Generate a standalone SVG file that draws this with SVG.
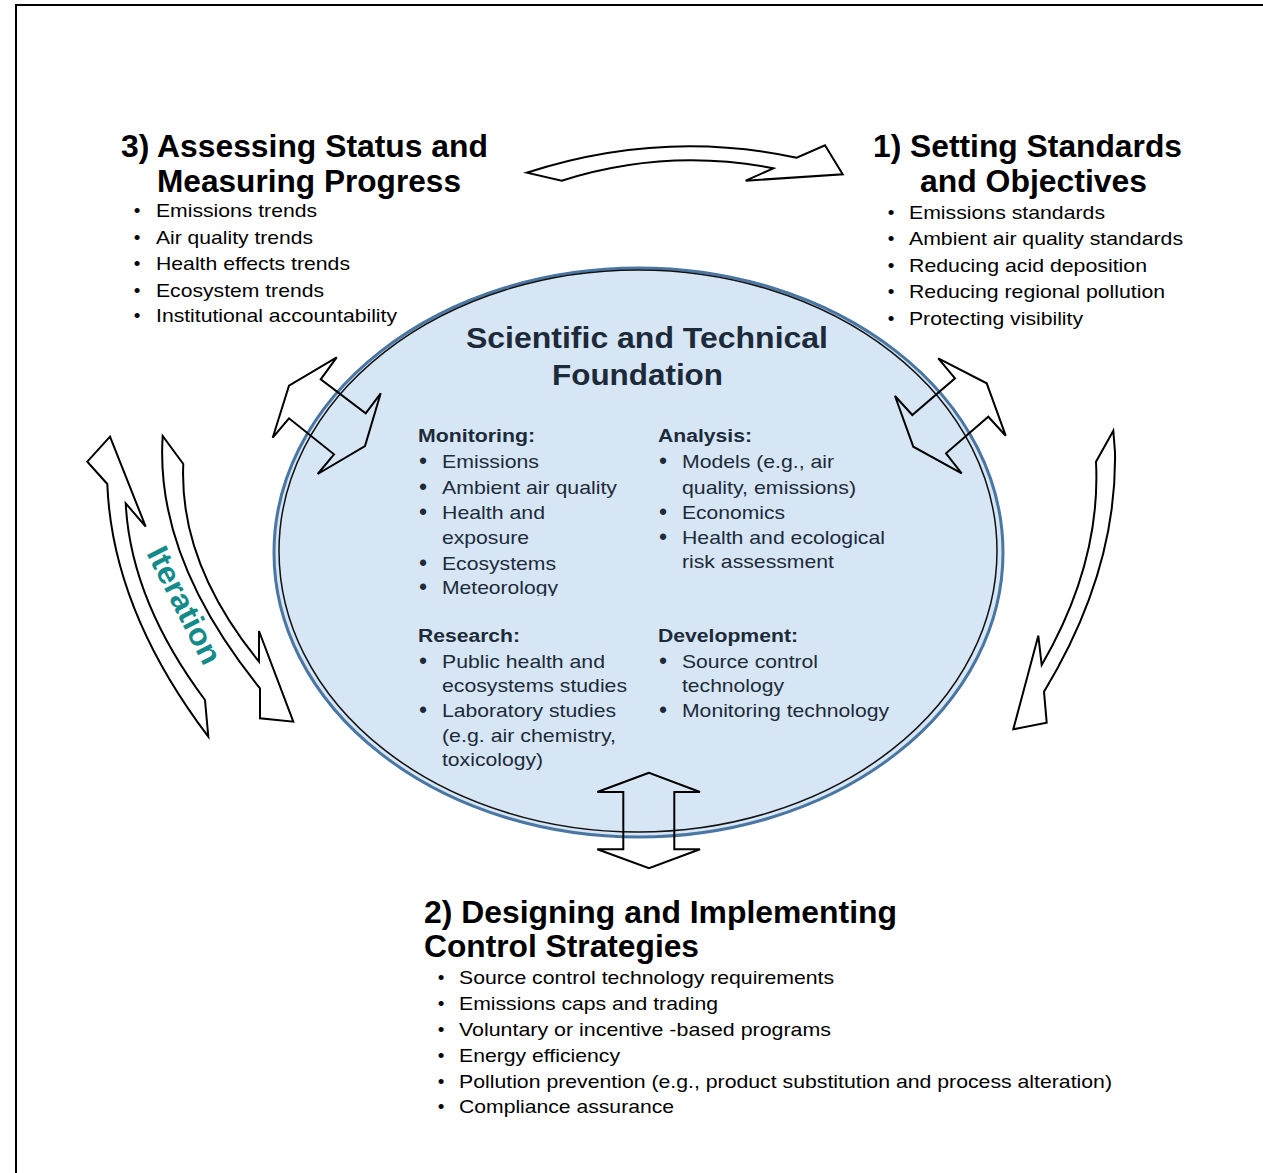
<svg xmlns="http://www.w3.org/2000/svg" width="1263" height="1173" viewBox="0 0 1263 1173">
  <style>
    text { font-family: "Liberation Sans", Arial, Helvetica, sans-serif; }
    .sec-title { font-weight: bold; font-size: 31px; fill: #000; }
    .sec-item { font-size: 19px; fill: #000; }
    .bul { font-size: 19px; fill: #000; text-anchor: middle; }
    .core-title { font-weight: bold; font-size: 30px; fill: #1c2a3a; }
    .core-head { font-weight: bold; font-size: 18px; fill: #1c2a3a; }
    .core-item { font-size: 19px; fill: #1c2a3a; }
    .core-bul { font-size: 23px; fill: #1c2a3a; text-anchor: middle; }
    .arrow { fill: none; stroke: #000; stroke-width: 2; stroke-linejoin: miter; }
    .iter { font-weight: bold; font-size: 31px; fill: #138b8b; text-anchor: middle; }
  </style>
  <defs>
    <clipPath id="cut-last-line">
      <rect x="400" y="560" width="250" height="36"/>
    </clipPath>
  </defs>

  <rect x="0" y="0" width="1263" height="1173" fill="#fff"/>
  <!-- page frame -->
  <path d="M16,1173 V5 H1263" fill="none" stroke="#000" stroke-width="2"/>

  <!-- central foundation -->
  <g id="node-foundation">
    <ellipse cx="638.5" cy="552.5" rx="364.5" ry="284.5" fill="#d7e6f4" stroke="#4a76a3" stroke-width="3"/>
    <ellipse cx="638" cy="551" rx="359" ry="281" fill="none" stroke="#111" stroke-width="1.5"/>
    <text class="core-title" x="466" y="348" textLength="362" lengthAdjust="spacingAndGlyphs">Scientific and Technical</text>
    <text class="core-title" x="552" y="385" textLength="171" lengthAdjust="spacingAndGlyphs">Foundation</text>

    <text class="core-head" x="418" y="442" textLength="117" lengthAdjust="spacingAndGlyphs">Monitoring:</text>
    <text class="core-bul" x="423" y="469">•</text>
    <text class="core-item" x="442" y="468" textLength="97" lengthAdjust="spacingAndGlyphs">Emissions</text>
    <text class="core-bul" x="423" y="495">•</text>
    <text class="core-item" x="442" y="494" textLength="175" lengthAdjust="spacingAndGlyphs">Ambient air quality</text>
    <text class="core-bul" x="423" y="520">•</text>
    <text class="core-item" x="442" y="519" textLength="103" lengthAdjust="spacingAndGlyphs">Health and</text>
    <text class="core-item" x="442" y="544" textLength="87" lengthAdjust="spacingAndGlyphs">exposure</text>
    <text class="core-bul" x="423" y="571">•</text>
    <text class="core-item" x="442" y="570" textLength="114" lengthAdjust="spacingAndGlyphs">Ecosystems</text>
    <g clip-path="url(#cut-last-line)">
      <text class="core-bul" x="423" y="595">•</text>
      <text class="core-item" x="442" y="594" textLength="116" lengthAdjust="spacingAndGlyphs">Meteorology</text>
    </g>

    <text class="core-head" x="658" y="442" textLength="94" lengthAdjust="spacingAndGlyphs">Analysis:</text>
    <text class="core-bul" x="663" y="469">•</text>
    <text class="core-item" x="682" y="468" textLength="152" lengthAdjust="spacingAndGlyphs">Models (e.g., air</text>
    <text class="core-item" x="682" y="494" textLength="174" lengthAdjust="spacingAndGlyphs">quality, emissions)</text>
    <text class="core-bul" x="663" y="520">•</text>
    <text class="core-item" x="682" y="519" textLength="103" lengthAdjust="spacingAndGlyphs">Economics</text>
    <text class="core-bul" x="663" y="545">•</text>
    <text class="core-item" x="682" y="544" textLength="203" lengthAdjust="spacingAndGlyphs">Health and ecological</text>
    <text class="core-item" x="682" y="568" textLength="152" lengthAdjust="spacingAndGlyphs">risk assessment</text>

    <text class="core-head" x="418" y="642" textLength="102" lengthAdjust="spacingAndGlyphs">Research:</text>
    <text class="core-bul" x="423" y="669">•</text>
    <text class="core-item" x="442" y="668" textLength="163" lengthAdjust="spacingAndGlyphs">Public health and</text>
    <text class="core-item" x="442" y="692" textLength="185" lengthAdjust="spacingAndGlyphs">ecosystems studies</text>
    <text class="core-bul" x="423" y="718">•</text>
    <text class="core-item" x="442" y="717" textLength="174" lengthAdjust="spacingAndGlyphs">Laboratory studies</text>
    <text class="core-item" x="442" y="742" textLength="174" lengthAdjust="spacingAndGlyphs">(e.g. air chemistry,</text>
    <text class="core-item" x="442" y="766" textLength="101" lengthAdjust="spacingAndGlyphs">toxicology)</text>

    <text class="core-head" x="658" y="642" textLength="140" lengthAdjust="spacingAndGlyphs">Development:</text>
    <text class="core-bul" x="663" y="669">•</text>
    <text class="core-item" x="682" y="668" textLength="136" lengthAdjust="spacingAndGlyphs">Source control</text>
    <text class="core-item" x="682" y="692" textLength="102" lengthAdjust="spacingAndGlyphs">technology</text>
    <text class="core-bul" x="663" y="718">•</text>
    <text class="core-item" x="682" y="717" textLength="207" lengthAdjust="spacingAndGlyphs">Monitoring technology</text>
  </g>

  <!-- step 3 -->
  <g id="node-assessing">
    <text class="sec-title" x="121" y="157" textLength="367" lengthAdjust="spacingAndGlyphs">3) Assessing Status and</text>
    <text class="sec-title" x="157" y="192" textLength="304" lengthAdjust="spacingAndGlyphs">Measuring Progress</text>
    <text class="bul" x="137" y="217">•</text>
    <text class="sec-item" x="156" y="217" textLength="161" lengthAdjust="spacingAndGlyphs">Emissions trends</text>
    <text class="bul" x="137" y="244">•</text>
    <text class="sec-item" x="156" y="244" textLength="157" lengthAdjust="spacingAndGlyphs">Air quality trends</text>
    <text class="bul" x="137" y="270">•</text>
    <text class="sec-item" x="156" y="270" textLength="194" lengthAdjust="spacingAndGlyphs">Health effects trends</text>
    <text class="bul" x="137" y="297">•</text>
    <text class="sec-item" x="156" y="297" textLength="168" lengthAdjust="spacingAndGlyphs">Ecosystem trends</text>
    <text class="bul" x="137" y="322">•</text>
    <text class="sec-item" x="156" y="322" textLength="241" lengthAdjust="spacingAndGlyphs">Institutional accountability</text>
  </g>

  <!-- step 1 -->
  <g id="node-setting">
    <text class="sec-title" x="873" y="157" textLength="309" lengthAdjust="spacingAndGlyphs">1) Setting Standards</text>
    <text class="sec-title" x="920" y="192" textLength="227" lengthAdjust="spacingAndGlyphs">and Objectives</text>
    <text class="bul" x="891" y="219">•</text>
    <text class="sec-item" x="909" y="219" textLength="196" lengthAdjust="spacingAndGlyphs">Emissions standards</text>
    <text class="bul" x="891" y="245">•</text>
    <text class="sec-item" x="909" y="245" textLength="274" lengthAdjust="spacingAndGlyphs">Ambient air quality standards</text>
    <text class="bul" x="891" y="272">•</text>
    <text class="sec-item" x="909" y="272" textLength="238" lengthAdjust="spacingAndGlyphs">Reducing acid deposition</text>
    <text class="bul" x="891" y="298">•</text>
    <text class="sec-item" x="909" y="298" textLength="256" lengthAdjust="spacingAndGlyphs">Reducing regional pollution</text>
    <text class="bul" x="891" y="325">•</text>
    <text class="sec-item" x="909" y="325" textLength="174" lengthAdjust="spacingAndGlyphs">Protecting visibility</text>
  </g>

  <!-- step 2 -->
  <g id="node-designing">
    <text class="sec-title" x="424" y="923" textLength="473" lengthAdjust="spacingAndGlyphs">2) Designing and Implementing</text>
    <text class="sec-title" x="424" y="957" textLength="275" lengthAdjust="spacingAndGlyphs">Control Strategies</text>
    <text class="bul" x="441" y="984">•</text>
    <text class="sec-item" x="459" y="984" textLength="375" lengthAdjust="spacingAndGlyphs">Source control technology requirements</text>
    <text class="bul" x="441" y="1010">•</text>
    <text class="sec-item" x="459" y="1010" textLength="259" lengthAdjust="spacingAndGlyphs">Emissions caps and trading</text>
    <text class="bul" x="441" y="1036">•</text>
    <text class="sec-item" x="459" y="1036" textLength="372" lengthAdjust="spacingAndGlyphs">Voluntary or incentive -based programs</text>
    <text class="bul" x="441" y="1062">•</text>
    <text class="sec-item" x="459" y="1062" textLength="161" lengthAdjust="spacingAndGlyphs">Energy efficiency</text>
    <text class="bul" x="441" y="1088">•</text>
    <text class="sec-item" x="459" y="1088" textLength="653" lengthAdjust="spacingAndGlyphs">Pollution prevention (e.g., product substitution and process alteration)</text>
    <text class="bul" x="441" y="1113">•</text>
    <text class="sec-item" x="459" y="1113" textLength="215" lengthAdjust="spacingAndGlyphs">Compliance assurance</text>
  </g>

  <!-- block arrows -->
  <g id="connectors">
    <!-- 3 -> 1 -->
    <path class="arrow" d="M526.7,172.7 Q662.3,128.8 796.7,157.7 L825,145.3 L842.7,174.3 L745.7,180.7 L773.3,168.3 Q666.5,147.5 561.7,180.7 Z"/>
    <!-- 1 -> 2 -->
    <path class="arrow" d="M1113.3,430.7 L1096,461.7 Q1101.1,562.6 1041.7,665 L1038.3,635.7 L1013.3,729.3 L1046.7,722.7 L1044,691.7 Q1117.1,571.1 1115,452 Z"/>
    <!-- iteration pair -->
    <path class="arrow" d="M110,436.7 L87.3,461.7 L107.3,484 Q112.2,609.7 208.3,736.7 L205,700 Q130.6,600.3 125.7,503.3 L145.7,526.7 Z"/>
    <path class="arrow" d="M162.7,436 Q154.7,558 260,688.3 L260,718.3 L293.3,721.7 L259,631 L259,661.7 Q178.8,563.1 183.3,464 Z"/>
    <!-- foundation <-> 3 -->
    <path class="arrow" d="M336.7,357.3 L320.7,379.3 L365.7,413.3 L380.7,393.3 L365,446 L317.7,474 L334,454.3 L289,418.3 L272.7,437.7 L289,385.7 Z"/>
    <!-- foundation <-> 1 -->
    <path class="arrow" d="M938.3,358.3 L955,378.3 L912.3,415 L895,396 L913.3,446.7 L961.7,473.3 L946,453.3 L988.3,416.7 L1005.7,435.7 L986.7,383.3 Z"/>
    <!-- foundation <-> 2 -->
    <path class="arrow" d="M649,772.7 L597.3,792 L623.3,792 L623.3,849.3 L597.3,849.3 L649,868.3 L700,849.3 L674.3,849.3 L674.3,792 L700,792 Z"/>
    <text class="iter" x="175" y="610" transform="rotate(63 175 610)" textLength="128" lengthAdjust="spacingAndGlyphs">Iteration</text>
  </g>
</svg>
